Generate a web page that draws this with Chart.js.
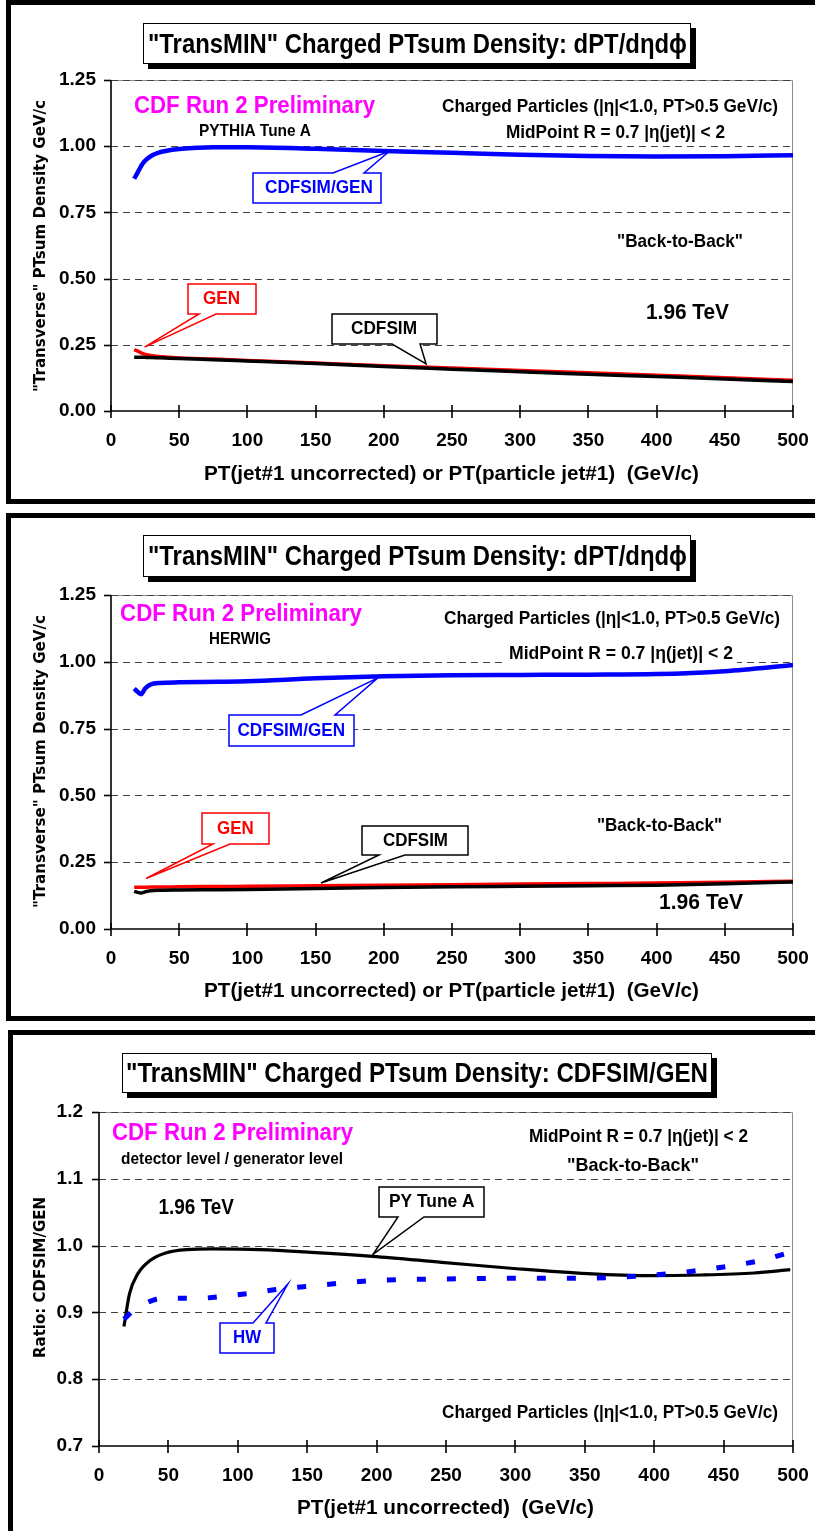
<!DOCTYPE html>
<html><head><meta charset="utf-8">
<script src="https://cdn.jsdelivr.net/npm/chart.js@4.4.1/dist/chart.umd.min.js"></script>
<style>
html,body{margin:0;padding:0;background:#fff;}
body{width:815px;height:1531px;position:relative;overflow:hidden;}
canvas{position:absolute;left:0;}
</style></head><body>
<canvas id="c1" width="815" height="508" style="top:0px"></canvas>
<canvas id="c2" width="815" height="517" style="top:508px"></canvas>
<canvas id="c3" width="815" height="506" style="top:1025px"></canvas>
<script>
// ---------------- DATA ----------------
const xTicks = [0,50,100,150,200,250,300,350,400,450,500];
const yTicksDensity = [0,0.25,0.5,0.75,1.0,1.25];
const yTicksRatio = [0.7,0.8,0.9,1.0,1.1,1.2];

// Panel 1: PYTHIA Tune A
const p1Pt    = [17,20,23,26,30,35,40,50,75,100,150,200,250,300,350,400,450,500];
const p1Gen   = [0.232,0.225,0.218,0.213,0.209,0.206,0.204,0.200,0.196,0.191,0.181,0.171,0.162,0.153,0.144,0.135,0.126,0.116];
const p1Sim   = [0.203,0.203,0.203,0.202,0.202,0.201,0.200,0.198,0.194,0.189,0.179,0.168,0.158,0.148,0.139,0.130,0.121,0.111];
const p1Ratio = [0.877,0.905,0.933,0.950,0.965,0.976,0.982,0.989,0.996,0.996,0.990,0.982,0.975,0.968,0.963,0.961,0.962,0.966];

// Panel 2: HERWIG
const p2Pt    = [17,19,22,25,29,36,50,80,100,150,200,250,300,350,400,450,500];
const p2Gen   = [0.156,0.156,0.156,0.156,0.157,0.157,0.158,0.159,0.160,0.162,0.164,0.166,0.168,0.170,0.172,0.175,0.179];
const p2Sim   = [0.141,0.138,0.135,0.139,0.143,0.145,0.146,0.147,0.148,0.152,0.155,0.158,0.160,0.162,0.164,0.169,0.176];
const p2Ratio = [0.900,0.890,0.879,0.900,0.915,0.921,0.923,0.925,0.927,0.938,0.946,0.950,0.951,0.952,0.954,0.965,0.988];

// Panel 3: ratios
const p3PyPt = [18,22,28,37,48,63,82,116,153,197,247,303,352,397,434,472,498];
const p3Py   = [0.879,0.928,0.958,0.978,0.989,0.994,0.995,0.994,0.990,0.984,0.975,0.965,0.958,0.955,0.956,0.959,0.964];
const p3HwPt = [18,25,35,45,70,90,110,130,150,175,200,250,300,350,375,400,425,450,475,500];
const p3Hw   = [0.890,0.903,0.915,0.921,0.921,0.924,0.929,0.935,0.939,0.944,0.948,0.950,0.951,0.951,0.953,0.956,0.961,0.968,0.977,0.991];

// ---------------- HELPERS ----------------
const FAM = '"Liberation Sans", Arial, sans-serif';
Chart.defaults.font.family = FAM;
Chart.defaults.color = '#000';

function xy(xs, ys){ return xs.map((x,i)=>({x:x, y:ys[i]})); }
function lineDs(label, xs, ys, color, width, dash){
  return {label, data: xy(xs,ys), borderColor: color, borderWidth: width, borderDash: dash||[],
    pointRadius: 0, fill: false, cubicInterpolationMode: 'monotone', borderJoinStyle: 'round', borderCapStyle: 'butt'};
}
function fitText(ctx, str, x0, x1, cy, size, color, family){
  ctx.save();
  ctx.font = 'bold ' + size + 'px ' + (family || FAM);
  ctx.fillStyle = color || '#000';
  ctx.textBaseline = 'middle'; ctx.textAlign = 'left';
  const w = ctx.measureText(str).width;
  ctx.translate(x0, cy); ctx.scale((x1-x0)/w, 1);
  ctx.fillText(str, 0, 0);
  ctx.restore();
}
function vText(ctx, str, cx, y0, y1, size, family){
  ctx.save();
  ctx.font = 'bold ' + size + 'px ' + family;
  ctx.fillStyle = '#000';
  const w = ctx.measureText(str).width;
  ctx.translate(cx, (y0+y1)/2); ctx.rotate(-Math.PI/2);
  ctx.scale((y1-y0)/w, 1);
  ctx.textAlign = 'center'; ctx.textBaseline = 'middle';
  ctx.fillText(str, 0, 0);
  ctx.restore();
}

const specs = {};
const decor = {
  id: 'decor',
  beforeDatasetsDraw(chart){
    const s = specs[chart.canvas.id]; if (!s) return;
    const ctx = chart.ctx, a = chart.chartArea, xs = chart.scales.x, ys = chart.scales.y;
    ctx.save();
    ctx.strokeStyle = '#8c8c8c'; ctx.lineWidth = 1;
    ctx.beginPath(); ctx.moveTo(a.left, a.top+0.5); ctx.lineTo(a.right-0.5, a.top+0.5); ctx.lineTo(a.right-0.5, a.bottom); ctx.stroke();
    ctx.strokeStyle = '#404040'; ctx.lineWidth = 1.2; ctx.setLineDash([7,5]);
    s.yTicks.forEach(v => {
      if (v === s.yTicks[0]) return;
      const py = Math.round(ys.getPixelForValue(v)) + 0.5;
      ctx.beginPath(); ctx.moveTo(a.left, py); ctx.lineTo(a.right, py); ctx.stroke();
    });
    ctx.setLineDash([]);
    ctx.strokeStyle = '#000'; ctx.lineWidth = 1.6;
    ctx.beginPath(); ctx.moveTo(a.left, a.top); ctx.lineTo(a.left, a.bottom); ctx.lineTo(a.right, a.bottom); ctx.stroke();
    s.yTicks.forEach(v => {
      const py = Math.round(ys.getPixelForValue(v)) + 0.5;
      ctx.beginPath(); ctx.moveTo(a.left-7, py); ctx.lineTo(a.left, py); ctx.stroke();
    });
    xTicks.forEach(v => {
      const px = Math.round(xs.getPixelForValue(v));
      ctx.beginPath(); ctx.moveTo(px, a.bottom-6); ctx.lineTo(px, a.bottom+7); ctx.stroke();
    });
    ctx.restore();
  },
  afterDatasetsDraw(chart){
    const s = specs[chart.canvas.id]; if (!s) return;
    const ctx = chart.ctx, xs = chart.scales.x, ys = chart.scales.y, o = s.off;
    ctx.save();
    ctx.fillStyle = '#000';
    s.border.forEach(r => ctx.fillRect(r[0], r[1]-o, r[2], r[3]));
    const t = s.title;
    ctx.fillStyle = '#000'; ctx.fillRect(t.x0+5, t.y0+5-o, t.x1-t.x0, t.y1-t.y0);
    ctx.fillStyle = '#fff'; ctx.fillRect(t.x0, t.y0-o, t.x1-t.x0, t.y1-t.y0);
    ctx.strokeStyle = '#000'; ctx.lineWidth = 1; ctx.strokeRect(t.x0+0.5, t.y0-o+0.5, t.x1-t.x0-1, t.y1-t.y0-1);
    fitText(ctx, t.text, t.tx0, t.tx1, t.cy-o, t.size, '#000');
    s.texts.forEach(q => {
      if (q.bg) { ctx.fillStyle = '#fff'; ctx.fillRect(q.x0-4, q.cy-o-11, q.x1-q.x0+8, 22); }
      fitText(ctx, q.t, q.x0, q.x1, q.cy-o, q.size, q.color || '#000');
    });
    s.callouts.forEach(c => {
      const tx = xs.getPixelForValue(c.tip[0]), ty = ys.getPixelForValue(c.tip[1]);
      const x0=c.x0, x1=c.x1, y0=c.y0-o, y1=c.y1-o;
      ctx.beginPath();
      if (c.side === 'bottom') {
        ctx.moveTo(x0,y0); ctx.lineTo(x1,y0); ctx.lineTo(x1,y1); ctx.lineTo(c.b1,y1);
        ctx.lineTo(tx,ty); ctx.lineTo(c.b0,y1); ctx.lineTo(x0,y1); ctx.closePath();
      } else {
        ctx.moveTo(x0,y0); ctx.lineTo(c.b0,y0); ctx.lineTo(tx,ty); ctx.lineTo(c.b1,y0);
        ctx.lineTo(x1,y0); ctx.lineTo(x1,y1); ctx.lineTo(x0,y1); ctx.closePath();
      }
      ctx.fillStyle = '#fff'; ctx.fill();
      ctx.strokeStyle = c.color; ctx.lineWidth = 1.5; ctx.lineJoin = 'miter'; ctx.stroke();
      fitText(ctx, c.text, c.tx0, c.tx1, (y0+y1)/2, 19, c.color);
    });
    vText(ctx, s.yTitle.text, s.yTitle.cx, s.yTitle.y0-o, s.yTitle.y1-o, 15, '"DejaVu Sans", sans-serif');
    fitText(ctx, s.xTitle.text, s.xTitle.x0, s.xTitle.x1, s.xTitle.cy-o, 21, '#000');
    ctx.restore();
  }
};

function makeChart(id, datasets, yMin, yMax, yTicks, yFmt, yW, xH, padTop, yPad){
  return new Chart(document.getElementById(id), {
    type: 'line',
    data: { datasets },
    options: {
      responsive: false, animation: false, events: [],
      layout: { padding: { left: 0, right: 22, top: padTop, bottom: 0 } },
      plugins: { legend: { display: false }, tooltip: { enabled: false } },
      scales: {
        x: { type: 'linear', min: 0, max: 500,
          afterBuildTicks: s => { s.ticks = xTicks.map(v => ({value: v})); },
          afterFit: s => { s.height = xH; s.paddingLeft = 0; s.paddingRight = 0; },
          grid: { display: false, drawTicks: false }, border: { display: false },
          ticks: { autoSkip: false, maxRotation: 0, padding: 18, color: '#000',
            font: { size: 19, weight: 'bold' }, callback: v => String(v) } },
        y: { type: 'linear', min: yMin, max: yMax,
          afterBuildTicks: s => { s.ticks = yTicks.map(v => ({value: v})); },
          afterFit: s => { s.width = yW; s.paddingTop = 0; s.paddingBottom = 0; },
          grid: { display: false, drawTicks: false }, border: { display: false },
          ticks: { autoSkip: false, padding: yPad, color: '#000',
            font: { size: 19, weight: 'bold' }, callback: v => v.toFixed(yFmt) } }
      }
    },
    plugins: [decor]
  });
}

const yTitleDensity = '"Transverse" PTsum Density GeV/c';

specs.c1 = {
  off: 0, yTicks: yTicksDensity,
  border: [[6,0,809,5],[6,0,5,504],[6,499,809,5]],
  title: {x0:143, y0:23, x1:691, y1:64, tx0:148, tx1:687, cy:45, size:28, text:'"TransMIN" Charged PTsum Density: dPT/d\u03b7d\u03d5'},
  texts: [
    {t:'CDF Run 2 Preliminary', x0:134, x1:375, cy:106, size:24, color:'#ff00ff'},
    {t:'PYTHIA Tune A', x0:199, x1:311, cy:131, size:16.5},
    {t:'Charged Particles (|\u03b7|<1.0, PT>0.5 GeV/c)', x0:442, x1:778, cy:107, size:19},
    {t:'MidPoint R = 0.7 |\u03b7(jet)| < 2', x0:506, x1:725, cy:133, size:19},
    {t:'"Back-to-Back"', x0:617, x1:743, cy:242, size:19},
    {t:'1.96 TeV', x0:646, x1:729, cy:313, size:22}
  ],
  callouts: [
    {text:'CDFSIM/GEN', color:'#0000ff', x0:253, x1:381, y0:173, y1:203, side:'top', b0:333, b1:364, tip:[204,0.981], tx0:265, tx1:373},
    {text:'GEN', color:'#ff0000', x0:188, x1:256, y0:284, y1:314, side:'bottom', b0:199, b1:216, tip:[24.6,0.241], tx0:203, tx1:240},
    {text:'CDFSIM', color:'#000000', x0:332, x1:437, y0:314, y1:344, side:'bottom', b0:392, b1:420, tip:[231,0.178], tx0:351, tx1:417}
  ],
  yTitle: {text: yTitleDensity, cx:41, y0:100, y1:392},
  xTitle: {text:'PT(jet#1 uncorrected) or PT(particle jet#1)  (GeV/c)', x0:204, x1:699, cy:474}
};

specs.c2 = {
  off: 508, yTicks: yTicksDensity,
  border: [[6,513,809,5],[6,513,5,508],[6,1016,809,5]],
  title: {x0:143, y0:535, x1:691, y1:577, tx0:148, tx1:687, cy:557, size:28, text:'"TransMIN" Charged PTsum Density: dPT/d\u03b7d\u03d5'},
  texts: [
    {t:'CDF Run 2 Preliminary', x0:120, x1:362, cy:614, size:24, color:'#ff00ff'},
    {t:'HERWIG', x0:209, x1:271, cy:639, size:16.5},
    {t:'Charged Particles (|\u03b7|<1.0, PT>0.5 GeV/c)', x0:444, x1:780, cy:619, size:19},
    {t:'MidPoint R = 0.7 |\u03b7(jet)| < 2', x0:509, x1:733, cy:654, size:19, bg:true},
    {t:'"Back-to-Back"', x0:597, x1:722, cy:826, size:19},
    {t:'1.96 TeV', x0:659, x1:743, cy:903, size:22}
  ],
  callouts: [
    {text:'CDFSIM/GEN', color:'#0000ff', x0:229, x1:354, y0:715, y1:746, side:'top', b0:301, b1:335, tip:[195.7,0.940], tx0:237.5, tx1:345},
    {text:'GEN', color:'#ff0000', x0:202, x1:269, y0:813, y1:844, side:'bottom', b0:213, b1:230, tip:[25.7,0.189], tx0:217, tx1:253.6},
    {text:'CDFSIM', color:'#000000', x0:362, x1:468, y0:826, y1:855, side:'bottom', b0:379, b1:405, tip:[154,0.172], tx0:383, tx1:448}
  ],
  yTitle: {text: yTitleDensity, cx:41, y0:615, y1:908},
  xTitle: {text:'PT(jet#1 uncorrected) or PT(particle jet#1)  (GeV/c)', x0:204, x1:699, cy:991}
};

specs.c3 = {
  off: 1025, yTicks: yTicksRatio,
  border: [[8,1030,807,5],[8,1030,5,501]],
  title: {x0:122, y0:1053, x1:712, y1:1093, tx0:126, tx1:708, cy:1074, size:28, text:'"TransMIN" Charged PTsum Density: CDFSIM/GEN'},
  texts: [
    {t:'CDF Run 2 Preliminary', x0:112, x1:353, cy:1133, size:24, color:'#ff00ff'},
    {t:'detector level / generator level', x0:121, x1:343, cy:1159, size:16.5},
    {t:'MidPoint R = 0.7 |\u03b7(jet)| < 2', x0:529, x1:748, cy:1137, size:19},
    {t:'"Back-to-Back"', x0:567, x1:699, cy:1166, size:19},
    {t:'1.96 TeV', x0:158.5, x1:234, cy:1208, size:22},
    {t:'Charged Particles (|\u03b7|<1.0, PT>0.5 GeV/c)', x0:442, x1:778, cy:1413, size:19}
  ],
  callouts: [
    {text:'PY Tune A', color:'#000000', x0:379, x1:484, y0:1187, y1:1217, side:'bottom', b0:398, b1:424, tip:[197.4,0.987], tx0:389, tx1:474.5},
    {text:'HW', color:'#0000ff', x0:220, x1:274, y0:1323, y1:1353, side:'top', b0:253, b1:266, tip:[136,0.9425], tx0:233, tx1:261}
  ],
  yTitle: {text:'Ratio: CDFSIM/GEN', cx:41, y0:1197, y1:1358},
  xTitle: {text:'PT(jet#1 uncorrected)  (GeV/c)', x0:297, x1:594, cy:1508}
};

makeChart('c1', [
  lineDs('CDFSIM/GEN', p1Pt, p1Ratio, '#0000ff', 4.5),
  lineDs('CDFSIM', p1Pt, p1Sim, '#000000', 3.5),
  lineDs('GEN', p1Pt, p1Gen, '#ff0000', 3.5)
], 0, 1.25, yTicksDensity, 2, 111, 97, 80, 15);

makeChart('c2', [
  lineDs('CDFSIM/GEN', p2Pt, p2Ratio, '#0000ff', 4.5),
  lineDs('CDFSIM', p2Pt, p2Sim, '#000000', 3.5),
  lineDs('GEN', p2Pt, p2Gen, '#ff0000', 3.5)
], 0, 1.25, yTicksDensity, 2, 111, 96, 87, 15);

makeChart('c3', [
  lineDs('HW', p3HwPt, p3Hw, '#0000ff', 5, [9,21]),
  lineDs('PY Tune A', p3PyPt, p3Py, '#000000', 3.2)
], 0.7, 1.2, yTicksRatio, 1, 99, 85, 87, 16);
</script>
</body></html>
